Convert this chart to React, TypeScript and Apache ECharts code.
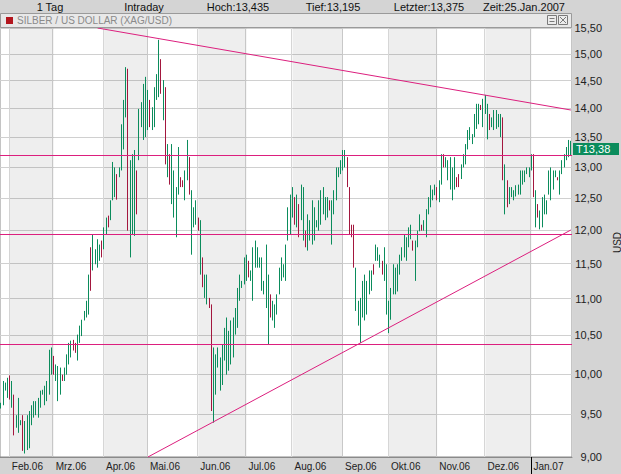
import React, { useEffect, useRef } from 'react';
import * as echarts from 'echarts';

// ---- data (one bar per weekday, 26.01.2006 – 25.01.2007) ----
const lows: number[] = [
  9.57, 9.61, 9.79, 9.70, 9.68, 9.58, 9.25, 9.34, 9.28, 9.37,
  9.07, 9.04, 9.08, 9.10, 9.37, 9.46, 9.49, 9.46, 9.58, 9.74,
  9.61, 9.66, 9.74, 9.99, 9.99, 9.91, 9.66, 9.74, 9.91, 9.91,
  9.99, 10.12, 10.21, 10.30, 10.27, 10.17, 10.40, 10.49, 10.70, 10.74,
  10.78, 11.11, 11.40, 11.49, 11.44, 11.54, 11.59, 11.71, 11.93, 12.04,
  12.15, 12.46, 12.51, 12.47, 12.83, 12.94, 13.29, 13.84, 11.99, 11.59,
  11.93, 11.91, 12.24, 13.11, 13.67, 13.45, 13.50, 13.62, 13.67, 13.62,
  13.67, 14.15, 14.20, 14.26, 13.79, 13.04, 12.83, 12.71, 12.40, 12.19,
  11.89, 12.55, 12.67, 12.67, 12.46, 12.78, 12.55, 11.63, 12.04, 12.08,
  11.99, 11.34, 11.16, 11.01, 10.92, 10.87, 9.54, 9.40, 9.74, 10.08,
  9.79, 9.86, 10.17, 9.99, 10.04, 10.12, 10.21, 10.51, 10.60, 10.97,
  11.15, 11.20, 11.25, 11.30, 11.25, 10.97, 11.44, 11.44, 11.44, 11.11,
  11.06, 10.87, 10.38, 10.74, 10.70, 10.60, 10.78, 11.06, 11.25, 11.30,
  11.25, 11.84, 11.93, 12.19, 12.08, 12.04, 11.89, 12.15, 11.84, 11.74,
  11.69, 11.84, 11.78, 11.84, 12.04, 11.99, 12.08, 12.24, 12.15, 12.19,
  12.30, 11.78, 12.24, 12.46, 12.83, 12.88, 12.94, 12.99, 12.67, 11.93,
  11.89, 11.44, 10.83, 10.63, 10.40, 10.74, 10.70, 10.78, 11.06, 11.11,
  11.34, 11.54, 11.54, 11.44, 11.34, 11.25, 10.78, 10.53, 10.71, 11.06,
  11.06, 11.10, 11.34, 11.54, 11.59, 11.54, 11.74, 11.86, 11.69, 11.25,
  11.74, 11.98, 11.99, 11.99, 11.89, 12.24, 12.35, 12.46, 12.54, 12.46,
  12.43, 12.71, 12.99, 12.99, 12.78, 12.63, 12.46, 12.63, 12.67, 12.67,
  12.80, 12.99, 13.04, 13.29, 13.45, 13.38, 13.50, 13.64, 13.72, 13.97,
  13.67, 13.90, 13.46, 13.62, 13.67, 13.62, 13.64, 13.67, 13.50, 12.78,
  12.24, 12.35, 12.40, 12.51, 12.46, 12.52, 12.55, 12.55, 12.71, 12.75,
  12.88, 12.83, 12.94, 12.51, 12.04, 12.19, 12.01, 12.04, 12.24, 12.24,
  12.55, 12.46, 12.63, 12.83, 12.78, 12.55, 12.88, 12.99, 13.11, 13.16,
  13.195,
];

const highs: number[] = [
  9.64, 9.91, 9.89, 9.95, 9.98, 9.91, 9.74, 9.49, 9.70, 9.43,
  9.49, 9.42, 9.49, 9.54, 9.61, 9.66, 9.66, 9.70, 9.79, 9.80,
  9.85, 9.91, 10.31, 10.34, 10.23, 10.12, 10.10, 10.08, 9.99, 10.08,
  10.25, 10.40, 10.43, 10.44, 10.40, 10.51, 10.63, 10.71, 10.83, 10.97,
  11.34, 11.74, 11.93, 11.71, 11.86, 11.78, 11.84, 12.04, 12.19, 12.22,
  12.46, 13.08, 12.99, 12.88, 12.99, 13.72, 14.15, 14.75, 14.72, 13.11,
  13.21, 13.28, 12.94, 13.99, 14.11, 14.44, 14.57, 14.33, 14.15, 14.02,
  14.38, 14.62, 15.27, 14.90, 14.51, 14.38, 13.38, 13.21, 13.38, 12.94,
  12.67, 13.33, 12.83, 12.78, 12.94, 13.45, 13.16, 12.62, 12.35, 12.46,
  12.19, 12.15, 11.59, 11.34, 11.34, 11.01, 10.92, 10.34, 10.25, 10.34,
  10.21, 10.38, 10.60, 10.74, 10.56, 10.70, 10.74, 10.87, 11.15, 11.34,
  11.25, 11.59, 11.63, 11.54, 11.40, 11.74, 11.84, 11.74, 11.59, 11.59,
  11.25, 11.78, 11.34, 11.06, 10.97, 10.92, 11.06, 11.44, 11.59, 11.49,
  11.78, 12.35, 12.55, 12.67, 12.51, 12.55, 12.40, 12.71, 12.67, 11.99,
  12.24, 12.15, 12.46, 12.35, 12.15, 12.46, 12.62, 12.67, 12.51, 12.51,
  12.46, 12.46, 12.62, 12.99, 12.99, 13.11, 13.28, 13.28, 13.16, 12.67,
  12.08, 12.08, 11.44, 10.97, 11.01, 11.25, 11.34, 11.25, 11.40, 11.40,
  11.49, 11.78, 11.74, 11.63, 11.54, 11.74, 11.49, 10.97, 11.15, 11.49,
  11.44, 11.49, 11.63, 11.74, 11.93, 11.89, 12.04, 12.08, 11.84, 11.84,
  11.99, 12.24, 12.08, 12.15, 12.32, 12.51, 12.70, 12.63, 12.71, 12.67,
  12.78, 13.21, 13.21, 13.16, 13.11, 13.16, 12.99, 13.16, 12.83, 12.88,
  13.04, 13.21, 13.38, 13.62, 13.67, 13.55, 13.90, 14.08, 14.08, 14.06,
  14.17, 14.24, 14.08, 13.90, 13.84, 13.97, 13.97, 13.90, 13.90, 13.84,
  13.04, 12.78, 12.67, 12.67, 12.62, 12.70, 12.71, 12.94, 12.94, 12.94,
  12.99, 12.99, 13.21, 13.21, 12.62, 12.40, 12.30, 12.51, 12.55, 12.46,
  12.94, 12.99, 12.94, 12.94, 12.83, 12.94, 13.11, 13.21, 13.33, 13.45,
  13.435,
];

// bars drawn in red (falling)
const downBars: number[] = [
  4, 6, 10, 24, 28, 33, 34, 41, 46, 49, 53, 58, 62, 68, 73, 75, 77, 82, 83, 86,
  90, 92, 95, 96, 113, 123, 134, 136, 139, 150, 158, 159, 160, 161, 170, 174,
  188, 192, 199, 202, 208, 209, 219, 223, 229, 231, 243, 245, 254,
];

const yTickValues = [9, 9.5, 10, 10.5, 11, 11.5, 12, 12.5, 13, 13.5, 14, 14.5, 15, 15.5];
const horizontalLevels = [13.19, 12.0, 10.4];
// trend lines: [bar index, price]
const resistanceLine: [number, number][] = [[44, 15.5], [260, 13.97]];
const supportLine: [number, number][] = [[67, 9.0], [260, 12.0]];
const lastPrice = 13.375;
const lastPriceLabel = 'T13,38';
const headerTexts = ['1 Tag', 'Intraday', 'Hoch:13,435', 'Tief:13,195', 'Letzter:13,375', 'Zeit:25.Jan.2007'];
const headerCenters = [50, 144, 238, 333, 429, 524];
const chartTitle = 'SILBER / US DOLLAR (XAG/USD)';
const monthAbbr = ['Jan', 'Feb', 'Mrz', 'Apr', 'Mai', 'Jun', 'Jul', 'Aug', 'Sep', 'Okt', 'Nov', 'Dez'];

const FONT = '"Liberation Sans", Arial, sans-serif';
const PINK = '#dc1f7e';
const UP = '#0b8c5c';
const DOWN = '#a3173e';

function buildDates(): string[] {
  const out: string[] = [];
  const d = new Date(Date.UTC(2006, 0, 26));
  const end = Date.UTC(2007, 0, 25);
  while (d.getTime() <= end) {
    const wd = d.getUTCDay();
    if (wd !== 0 && wd !== 6) out.push(d.toISOString().slice(0, 10));
    d.setUTCDate(d.getUTCDate() + 1);
  }
  return out;
}

export default function App() {
  const ref = useRef<HTMLDivElement>(null);

  useEffect(() => {
    if (!ref.current) return;
    const chart = echarts.init(ref.current, undefined, { renderer: 'svg' });
    const ln = Math.log;
    const cats = buildDates();
    const downSet = new Set(downBars);

    const candles = lows.map((l, i) => {
      const h = highs[i];
      return downSet.has(i) ? [ln(h), ln(l), ln(l), ln(h)] : [ln(l), ln(h), ln(l), ln(h)];
    });

    const monthStarts: number[] = [];
    for (let i = 1; i < cats.length; i++) {
      if (cats[i].slice(5, 7) !== cats[i - 1].slice(5, 7)) monthStarts.push(i);
    }
    const monthStartSet = new Set(monthStarts);
    const yearStart = monthStarts.find((i) => cats[i].slice(0, 4) === '2007') as number;

    const bands: any[] = [];
    for (let k = 0; k < monthStarts.length - 1; k++) {
      const s = monthStarts[k];
      const m = parseInt(cats[s].slice(5, 7), 10) - 1;
      if (m % 2 === 1) {
        bands.push([{ xAxis: cats[s] }, { xAxis: cats[monthStarts[k + 1]] }]);
      }
    }

    const tickLn = yTickValues.map((v) => ln(v));

    const option: any = {
      animation: false,
      backgroundColor: '#d4d4d4',
      textStyle: { fontFamily: FONT },
      grid: {
        left: 0,
        right: 49,
        top: 28,
        bottom: 17,
        containLabel: false,
        outerBoundsMode: 'none',
        show: true,
        backgroundColor: '#ffffff',
        borderColor: '#8a8a8a',
        borderWidth: 1,
      },
      xAxis: {
        type: 'category',
        data: cats,
        boundaryGap: true,
        axisLine: { show: true, lineStyle: { color: '#8a8a8a' } },
        axisTick: {
          show: true,
          alignWithLabel: true,
          interval: (i: number) => i === yearStart,
          length: 18,
          lineStyle: { color: '#000', width: 1 },
        },
        axisLabel: {
          interval: (i: number) => monthStartSet.has(i),
          formatter: (v: string) => `${monthAbbr[parseInt(v.slice(5, 7), 10) - 1]}.${v.slice(2, 4)}`,
          align: 'left',
          padding: [0, 0, 0, 2],
          margin: 4,
          fontSize: 10,
          color: '#222',
          fontFamily: FONT,
        },
        splitLine: {
          show: true,
          interval: (i: number) => monthStartSet.has(i),
          lineStyle: { color: '#d6d6d6', width: 1 },
        },
      },
      yAxis: {
        type: 'value',
        position: 'right',
        min: ln(9),
        max: ln(15.5),
        axisLine: { show: false },
        axisTick: { show: false, customValues: tickLn },
        axisLabel: {
          customValues: tickLn,
          formatter: (v: number) => Math.exp(v).toFixed(2).replace('.', ','),
          align: 'right',
          margin: 30,
          fontSize: 11,
          color: '#222',
          fontFamily: FONT,
        },
        splitLine: { show: true, lineStyle: { color: '#d0d0d0', width: 1 } },
        name: 'USD',
        nameLocation: 'middle',
        nameRotate: 90,
        nameGap: 30,
        nameTextStyle: { fontSize: 10, color: '#222', fontFamily: FONT },
      },
      series: [
        {
          type: 'line',
          data: [],
          z: 1,
          silent: true,
          markArea: {
            silent: true,
            itemStyle: { color: 'rgba(0,0,0,0.065)' },
            data: bands,
          },
        },
        {
          type: 'candlestick',
          data: candles,
          z: 3,
          silent: true,
          barWidth: 0.8,
          itemStyle: {
            color: UP,
            color0: DOWN,
            borderColor: UP,
            borderColor0: DOWN,
            borderWidth: 1,
          },
        },
        {
          type: 'line',
          data: [],
          z: 5,
          silent: true,
          markLine: {
            silent: true,
            symbol: ['none', 'none'],
            label: { show: false },
            lineStyle: { color: PINK, width: 1, type: 'solid' },
            data: [
              ...horizontalLevels.map((v) => ({ yAxis: ln(v) })),
              [
                { coord: [cats[resistanceLine[0][0]], ln(resistanceLine[0][1])] },
                { coord: [cats[resistanceLine[1][0]], ln(resistanceLine[1][1])] },
              ],
              [
                { coord: [cats[supportLine[0][0]], ln(supportLine[0][1])] },
                { coord: [cats[supportLine[1][0]], ln(supportLine[1][1])] },
              ],
            ],
          },
        },
        {
          type: 'line',
          data: [],
          z: 8,
          silent: true,
          markLine: {
            silent: true,
            symbol: ['none', 'none'],
            lineStyle: { color: 'rgba(0,0,0,0)', width: 1, type: 'solid' },
            label: {
              show: true,
              position: 'end',
              distance: 1,
              offset: [0, 2],
              formatter: lastPriceLabel,
              color: '#ffffff',
              backgroundColor: UP,
              padding: [1, 3, 0, 3],
              width: 40,
              fontSize: 11,
              fontFamily: FONT,
            },
            data: [{ yAxis: ln(lastPrice) }],
          },
        },
      ],
      graphic: [
        ...headerTexts.map((t, i) => ({
          type: 'text',
          x: headerCenters[i],
          y: 7,
          style: { text: t, fill: '#111', font: `11px ${FONT}`, textAlign: 'center', textVerticalAlign: 'middle' },
        })),
        {
          type: 'rect',
          shape: { x: 0.5, y: 13.5, width: 571, height: 14 },
          style: { fill: '#e8e8e8', stroke: '#9a9a9a', lineWidth: 1 },
          z: 10,
        },
        {
          type: 'rect',
          shape: { x: 6, y: 17, width: 7, height: 7 },
          style: { fill: '#b3161e' },
          z: 11,
        },
        {
          type: 'text',
          x: 17,
          y: 20.5,
          style: { text: chartTitle, fill: '#8a8a8a', font: `10px ${FONT}`, textVerticalAlign: 'middle' },
          z: 11,
        },
        {
          type: 'rect',
          shape: { x: 547.5, y: 15.5, width: 9, height: 9 },
          style: { fill: '#ececec', stroke: '#7a7a7a', lineWidth: 1 },
          z: 11,
        },
        {
          type: 'line',
          shape: { x1: 549.5, y1: 18.5, x2: 554.5, y2: 18.5 },
          style: { stroke: '#7a7a7a', lineWidth: 1 },
          z: 12,
        },
        {
          type: 'line',
          shape: { x1: 549.5, y1: 21.5, x2: 554.5, y2: 21.5 },
          style: { stroke: '#7a7a7a', lineWidth: 1 },
          z: 12,
        },
        {
          type: 'rect',
          shape: { x: 558.5, y: 15.5, width: 9, height: 9 },
          style: { fill: '#ececec', stroke: '#7a7a7a', lineWidth: 1 },
          z: 11,
        },
        {
          type: 'line',
          shape: { x1: 560, y1: 17, x2: 566, y2: 23 },
          style: { stroke: '#7a7a7a', lineWidth: 1 },
          z: 12,
        },
        {
          type: 'line',
          shape: { x1: 566, y1: 17, x2: 560, y2: 23 },
          style: { stroke: '#7a7a7a', lineWidth: 1 },
          z: 12,
        },
      ],
    };

    chart.setOption(option);
    return () => chart.dispose();
  }, []);

  return (
    <div
      ref={ref}
      style={{ position: 'fixed', left: 0, top: 0, width: 621, height: 474 }}
    />
  );
}
